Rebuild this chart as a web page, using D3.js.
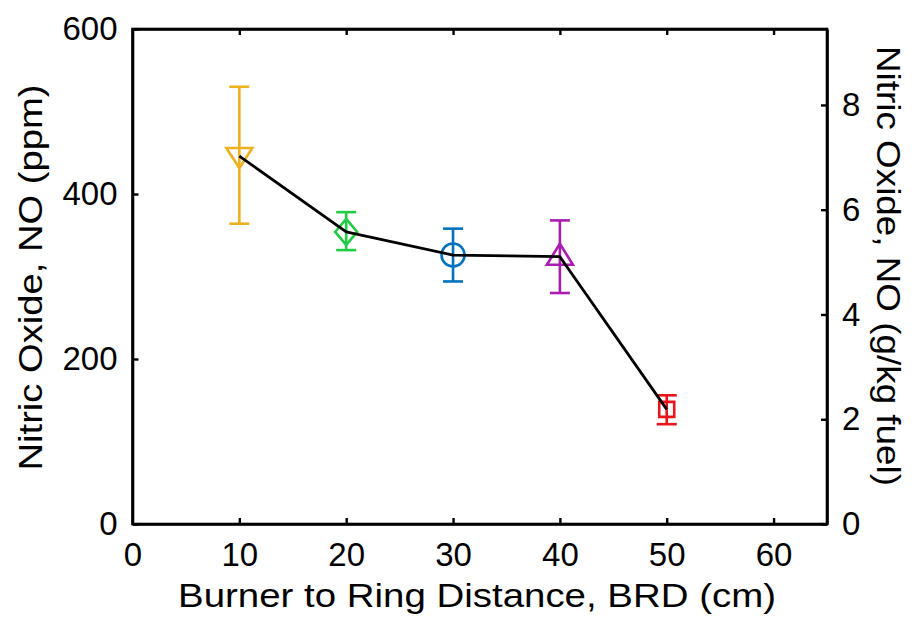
<!DOCTYPE html>
<html>
<head>
<meta charset="utf-8">
<script src="https://cdn.jsdelivr.net/npm/d3@7"></script>
<style>
  html, body { margin: 0; padding: 0; background: #fff; }
  svg { display: block; font-family: "Liberation Sans", Arial, sans-serif; }
</style>
</head>
<body>
<svg id="chart" width="914" height="622"></svg>
<script>
// Burner-to-ring distance (cm) and measured NO (ppm) with error bounds
const brd = [10, 20, 30, 40, 50];
const noPpm = [446, 354, 326, 324, 139];
const noHigh = [530, 378, 358, 368, 156];
const noLow = [364, 332, 294, 280, 121];
const markerShapes = ["triangleDown", "diamond", "circle", "triangleUp", "square"];
const markerColors = ["#EDB120", "#22CC44", "#0072BD", "#A81CB0", "#E8161C"];

const xTicks = [0, 10, 20, 30, 40, 50, 60];
const yTicksLeft = [0, 200, 400, 600];
const yTicksRight = [0, 2, 4, 6, 8];

const svg = d3.select("#chart");
const L = 132.5, R = 827, T = 29, B = 524;

const x = d3.scaleLinear().domain([0, 65]).range([L, R]);
const y = d3.scaleLinear().domain([0, 600]).range([B, T]);
const y2 = d3.scaleLinear().domain([0, 9.45]).range([B, T]);

const tickLen = 6;
const fontTick = 33;

// Axes (ticks pointing inward, box on all sides)
const axBottom = d3.axisBottom(x).tickValues(xTicks).tickSizeInner(-tickLen).tickSizeOuter(0).tickPadding(19);
const axTop = d3.axisTop(x).tickValues(xTicks.filter(v => v > 0)).tickSizeInner(-tickLen).tickSizeOuter(0).tickFormat("");
const axLeft = d3.axisLeft(y).tickValues(yTicksLeft).tickSizeInner(-tickLen).tickSizeOuter(0).tickPadding(15);
const axRight = d3.axisRight(y2).tickValues(yTicksRight).tickSizeInner(-tickLen).tickSizeOuter(0).tickPadding(15);

function style(g) {
  g.selectAll("path.domain").attr("stroke", "#000").attr("stroke-width", 2.6);
  g.selectAll(".tick line").attr("stroke", "#000").attr("stroke-width", 2.4);
  g.selectAll(".tick text").attr("fill", "#000").style("font-size", fontTick + "px")
    .style("font-family", '"Liberation Sans", Arial, sans-serif');
}

svg.append("g").attr("transform", `translate(0,${B})`).call(axBottom).call(style)
  .selectAll(".tick line").filter(d => d === 0).remove();
svg.append("g").attr("transform", `translate(0,${T})`).call(axTop).call(style);
svg.append("g").attr("transform", `translate(${L},0)`).call(axLeft).call(style);
svg.append("g").attr("transform", `translate(${R},0)`).call(axRight).call(style);

// Close box corners
svg.append("rect").attr("x", L).attr("y", T).attr("width", R - L).attr("height", B - T)
  .attr("fill", "none").attr("stroke", "#000").attr("stroke-width", 2.6);

// Data
const pts = brd.map((d, i) => ({x: d, v: noPpm[i], hi: noHigh[i], lo: noLow[i], shape: markerShapes[i], color: markerColors[i]}));

const capHalf = 10;
const eb = svg.append("g").attr("fill", "none").attr("stroke-width", 2.6);
pts.forEach(p => {
  const g = eb.append("g").attr("stroke", p.color);
  const cx = x(p.x);
  g.append("line").attr("x1", cx).attr("x2", cx).attr("y1", y(p.hi)).attr("y2", y(p.lo));
  g.append("line").attr("x1", cx - capHalf).attr("x2", cx + capHalf).attr("y1", y(p.hi)).attr("y2", y(p.hi));
  g.append("line").attr("x1", cx - capHalf).attr("x2", cx + capHalf).attr("y1", y(p.lo)).attr("y2", y(p.lo));

  const cy = y(p.v);
  let path;
  if (p.shape === "triangleDown") {
    path = `M${cx - 13},${cy - 8} L${cx + 13},${cy - 8} L${cx},${cy + 12} Z`;
  } else if (p.shape === "triangleUp") {
    path = `M${cx - 13},${cy + 8} L${cx + 13},${cy + 8} L${cx},${cy - 13} Z`;
  } else if (p.shape === "diamond") {
    path = `M${cx},${cy - 13} L${cx + 11},${cy} L${cx},${cy + 13} L${cx - 11},${cy} Z`;
  } else if (p.shape === "square") {
    path = `M${cx - 7.5},${cy - 7.5} L${cx + 7.5},${cy - 7.5} L${cx + 7.5},${cy + 7.5} L${cx - 7.5},${cy + 7.5} Z`;
  }
  if (p.shape === "circle") {
    g.append("circle").attr("cx", cx).attr("cy", cy).attr("r", 11.5);
  } else {
    g.append("path").attr("d", path).attr("stroke-linejoin", "miter");
  }
});

// Connecting line
const line = d3.line().x(d => x(d.x)).y(d => y(d.v));
svg.append("path").datum(pts).attr("d", line)
  .attr("fill", "none").attr("stroke", "#000").attr("stroke-width", 2.8).attr("stroke-linejoin", "round");

// Axis titles
svg.append("text").attr("x", 477).attr("y", 607).attr("text-anchor", "middle")
  .attr("textLength", 598).attr("lengthAdjust", "spacingAndGlyphs")
  .style("font-size", "34px").text("Burner to Ring Distance, BRD (cm)");
svg.append("text").attr("transform", `translate(42,277.5) rotate(-90)`).attr("text-anchor", "middle")
  .attr("textLength", 386).attr("lengthAdjust", "spacingAndGlyphs")
  .style("font-size", "34px").text("Nitric Oxide, NO (ppm)");
svg.append("text").attr("transform", `translate(877,266) rotate(90)`).attr("text-anchor", "middle")
  .attr("textLength", 440).attr("lengthAdjust", "spacingAndGlyphs")
  .style("font-size", "34px").text("Nitric Oxide, NO (g/kg fuel)");
</script>
</body>
</html>
